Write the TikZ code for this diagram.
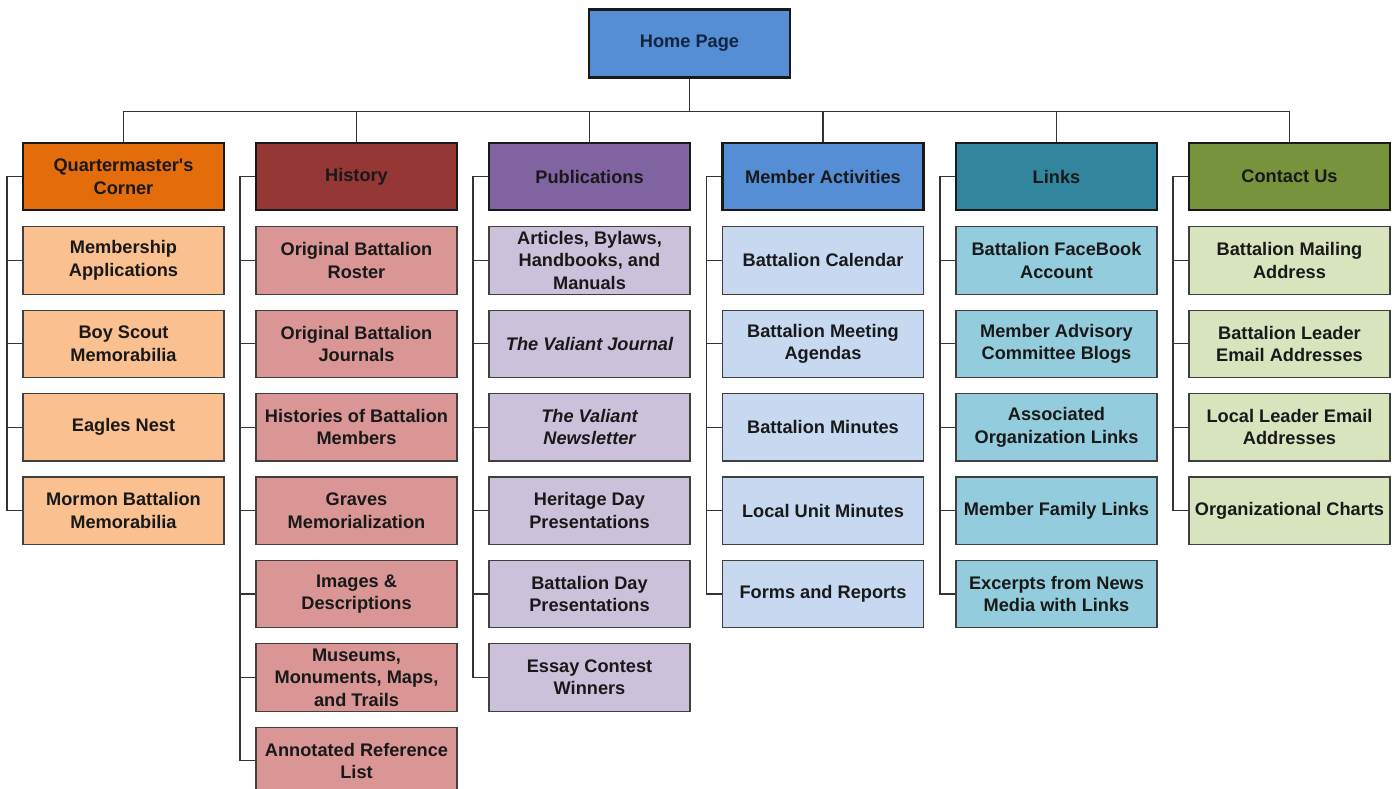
\documentclass[tikz,border=0pt]{standalone}
\usepackage{fontspec}
\setmainfont{Liberation Sans}
\usepackage{xcolor}
\usepackage{tikz}
\usetikzlibrary{positioning}
\definecolor{homeblue}{HTML}{558ED5}
\definecolor{qmdark}{HTML}{E46C0A}
\definecolor{qmlight}{HTML}{FAC090}
\definecolor{histdark}{HTML}{953735}
\definecolor{histlight}{HTML}{D99694}
\definecolor{pubdark}{HTML}{8064A2}
\definecolor{publight}{HTML}{CCC1DA}
\definecolor{memdark}{HTML}{558ED5}
\definecolor{memlight}{HTML}{C6D9F1}
\definecolor{linkdark}{HTML}{31859C}
\definecolor{linklight}{HTML}{93CDDD}
\definecolor{contdark}{HTML}{77933C}
\definecolor{contlight}{HTML}{D7E4BD}
\tikzstyle{box} = [rectangle, draw=black!75, line width=1.2pt, minimum width=201pt,
    minimum height=67.4pt, align=center, inner sep=2pt, text=black!90,
    font=\fontsize{18.2}{22.5}\selectfont\bfseries]
\tikzstyle{head} = [box, draw=black!90, line width=2.2pt]
\tikzstyle{home} = [head, fill=homeblue, line width=2.8pt, text={rgb,255:red,16;green,37;blue,63}]
\tikzstyle{qmhead} = [head, fill=qmdark]
\tikzstyle{qmitem} = [box, fill=qmlight]
\tikzstyle{histhead} = [head, fill=histdark]
\tikzstyle{histitem} = [box, fill=histlight]
\tikzstyle{pubhead} = [head, fill=pubdark]
\tikzstyle{pubitem} = [box, fill=publight]
\tikzstyle{memhead} = [head, fill=memdark]
\tikzstyle{memitem} = [box, fill=memlight]
\tikzstyle{linkhead} = [head, fill=linkdark]
\tikzstyle{linkitem} = [box, fill=linklight]
\tikzstyle{conthead} = [head, fill=contdark]
\tikzstyle{contitem} = [box, fill=contlight]
\tikzstyle{line} = [draw, black!80, line width=1.3pt]

\begin{document}
\begin{tikzpicture}[x=1pt, y=1pt, node distance=14.8pt]
  \useasboundingbox (0,0) rectangle (1398,-789);
  \clip (0,0) rectangle (1398,-789);
  % Place nodes
  \node [home] (home) at (689.5,-43.5) {Home Page};
  \node [qmhead] (qm) at (123.5,-176.5) {Quartermaster\textquotesingle s\\Corner};
  \node [histhead] (hist) at (356.5,-176.5) {History};
  \node [pubhead] (pub) at (589.5,-176.5) {Publications};
  \node [memhead] (mem) at (823,-176.5) {Member Activities};
  \node [linkhead] (link) at (1056.5,-176.5) {Links};
  \node [conthead] (cont) at (1289.5,-176.5) {Contact Us};

  \node [qmitem, below=of qm] (qm1) {Membership\\Applications};
  \node [qmitem, below=of qm1] (qm2) {Boy Scout\\Memorabilia};
  \node [qmitem, below=of qm2] (qm3) {Eagles Nest};
  \node [qmitem, below=of qm3] (qm4) {Mormon Battalion\\Memorabilia};

  \node [histitem, below=of hist] (hist1) {Original Battalion\\Roster};
  \node [histitem, below=of hist1] (hist2) {Original Battalion\\Journals};
  \node [histitem, below=of hist2] (hist3) {Histories of Battalion\\Members};
  \node [histitem, below=of hist3] (hist4) {Graves\\Memorialization};
  \node [histitem, below=of hist4] (hist5) {Images \&\\Descriptions};
  \node [histitem, below=of hist5] (hist6) {Museums,\\Monuments, Maps,\\and Trails};
  \node [histitem, below=of hist6] (hist7) {Annotated Reference\\List};

  \node [pubitem, below=of pub] (pub1) {Articles, Bylaws,\\Handbooks, and\\Manuals};
  \node [pubitem, below=of pub1] (pub2) {\itshape The Valiant Journal};
  \node [pubitem, below=of pub2] (pub3) {\itshape The Valiant\\\itshape Newsletter};
  \node [pubitem, below=of pub3] (pub4) {Heritage Day\\Presentations};
  \node [pubitem, below=of pub4] (pub5) {Battalion Day\\Presentations};
  \node [pubitem, below=of pub5] (pub6) {Essay Contest\\Winners};

  \node [memitem, below=of mem] (mem1) {Battalion Calendar};
  \node [memitem, below=of mem1] (mem2) {Battalion Meeting\\Agendas};
  \node [memitem, below=of mem2] (mem3) {Battalion Minutes};
  \node [memitem, below=of mem3] (mem4) {Local Unit Minutes};
  \node [memitem, below=of mem4] (mem5) {Forms and Reports};

  \node [linkitem, below=of link] (link1) {Battalion FaceBook\\Account};
  \node [linkitem, below=of link1] (link2) {Member Advisory\\Committee Blogs};
  \node [linkitem, below=of link2] (link3) {Associated\\Organization Links};
  \node [linkitem, below=of link3] (link4) {Member Family Links};
  \node [linkitem, below=of link4] (link5) {Excerpts from News\\Media with Links};

  \node [contitem, below=of cont] (cont1) {Battalion Mailing\\Address};
  \node [contitem, below=of cont1] (cont2) {Battalion Leader\\Email Addresses};
  \node [contitem, below=of cont2] (cont3) {Local Leader Email\\Addresses};
  \node [contitem, below=of cont3] (cont4) {Organizational Charts};

  % Draw edges
  \path [line] (home.south) -- ++(0,-33) -| (qm.north);
  \path [line] (home.south) -- ++(0,-33) -| (hist.north);
  \path [line] (home.south) -- ++(0,-33) -| (pub.north);
  \path [line] (home.south) -- ++(0,-33) -| (mem.north);
  \path [line] (home.south) -- ++(0,-33) -| (link.north);
  \path [line] (home.south) -- ++(0,-33) -| (cont.north);

  \path [line] (qm.west) -- ++(-15,0) |- (qm4.west);
  \path [line] (qm1.west) -- ++(-15,0);
  \path [line] (qm2.west) -- ++(-15,0);
  \path [line] (qm3.west) -- ++(-15,0);

  \path [line] (hist.west) -- ++(-15,0) |- (hist7.west);
  \path [line] (hist1.west) -- ++(-15,0);
  \path [line] (hist2.west) -- ++(-15,0);
  \path [line] (hist3.west) -- ++(-15,0);
  \path [line] (hist4.west) -- ++(-15,0);
  \path [line] (hist5.west) -- ++(-15,0);
  \path [line] (hist6.west) -- ++(-15,0);

  \path [line] (pub.west) -- ++(-15,0) |- (pub6.west);
  \path [line] (pub1.west) -- ++(-15,0);
  \path [line] (pub2.west) -- ++(-15,0);
  \path [line] (pub3.west) -- ++(-15,0);
  \path [line] (pub4.west) -- ++(-15,0);
  \path [line] (pub5.west) -- ++(-15,0);

  \path [line] (mem.west) -- ++(-15,0) |- (mem5.west);
  \path [line] (mem1.west) -- ++(-15,0);
  \path [line] (mem2.west) -- ++(-15,0);
  \path [line] (mem3.west) -- ++(-15,0);
  \path [line] (mem4.west) -- ++(-15,0);

  \path [line] (link.west) -- ++(-15,0) |- (link5.west);
  \path [line] (link1.west) -- ++(-15,0);
  \path [line] (link2.west) -- ++(-15,0);
  \path [line] (link3.west) -- ++(-15,0);
  \path [line] (link4.west) -- ++(-15,0);

  \path [line] (cont.west) -- ++(-15,0) |- (cont4.west);
  \path [line] (cont1.west) -- ++(-15,0);
  \path [line] (cont2.west) -- ++(-15,0);
  \path [line] (cont3.west) -- ++(-15,0);
\end{tikzpicture}
\end{document}
